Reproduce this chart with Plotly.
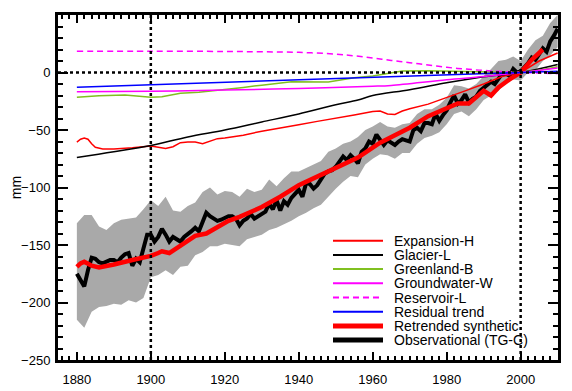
import plotly.graph_objects as go

# ---------------- data (mm, relative to 2000) ----------------
obs_years = list(range(1880, 2011))
obs_tgc = [
    -175, -180, -186, -172, -161, -162, -165, -166, -164, -163,
    -163, -165, -161, -158, -157, -168, -162, -165, -153, -141,
    -141, -147, -143, -136, -141, -147, -143, -145, -147, -143,
    -141, -138, -135, -138, -130, -122, -125, -127, -129, -128,
    -126, -125, -125, -127, -133, -129, -127, -123, -127, -125,
    -124, -121, -114, -119, -111, -120, -112, -115, -109, -106,
    -102, -108, -96, -97, -101, -98, -93, -88, -86, -85,
    -82, -77, -73, -76, -72, -75, -79, -69, -66, -60,
    -62, -54, -58, -63, -59, -61, -63, -60, -58, -59,
    -60, -50, -48, -51, -44, -44, -45, -36, -42, -37,
    -33, -26, -20, -27, -24, -19, -26, -23, -21, -16,
    -13, -10, -8, -10, -6, -1, -1, -3, 3, 0,
    1, 4, 8, 13, 11, 16, 21, 18, 27, 32,
    38,
]

band_years = list(range(1880, 2011, 2))
band_upper = [
    -131, -124, -124, -134, -137, -131, -128, -127, -126, -119,
    -111, -116, -108, -120, -121, -116, -113, -104, -100, -106,
    -103, -104, -108, -101, -104, -102, -93, -99, -92, -86,
    -86, -83, -80, -77, -69, -66, -62, -60, -56, -50,
    -47, -43, -47, -48, -45, -44, -36, -32, -32, -28,
    -22, -11, -12, -14, -10, -3, 3, 10, 11, 14,
    10, 20, 28, 32, 43, 50,
]
band_lower = [
    -215, -222, -208, -204, -203, -201, -202, -198, -200, -196,
    -178, -176, -172, -176, -169, -168, -159, -156, -151, -151,
    -149, -150, -151, -145, -143, -141, -137, -135, -132, -129,
    -125, -122, -118, -115, -108, -101, -95, -90, -91, -80,
    -75, -71, -72, -75, -70, -70, -62, -57, -55, -52,
    -45, -36, -34, -38, -32, -24, -20, -16, -9, -6,
    -7, 0, 2, 10, 15, 22,
]

retr_years = [1880, 1881, 1882, 1883, 1884, 1886, 1888, 1890, 1895, 1900,
              1902, 1903, 1905, 1907, 1909, 1912, 1915, 1918, 1921, 1924,
              1930, 1935, 1940, 1946, 1951, 1956, 1962, 1965, 1970, 1975,
              1980, 1983, 1986, 1988, 1990, 1992, 1994, 1997, 2000, 2003, 2006]
retr_synth = [-169, -166, -164.5, -166, -168, -169.5, -168.5, -167, -163, -159.5,
              -157, -155.5, -157, -153, -149, -142, -140, -134.5, -129, -125.5,
              -117, -108, -98, -89, -82, -74, -61, -56, -48, -38,
              -31, -27, -27, -22, -16, -20, -13, -6, 0, 11, 20]

exp_years = [1880, 1881, 1882, 1883, 1884, 1885, 1887, 1890, 1895, 1900,
             1902, 1904, 1906, 1908, 1910, 1912, 1914, 1916, 1918, 1920,
             1925, 1930, 1935, 1940, 1945, 1950, 1955, 1960, 1962, 1964,
             1966, 1968, 1970, 1975, 1980, 1985, 1990, 1995, 2000, 2005, 2010]
expansion_h = [-60.5, -58, -57, -58, -62, -65, -66.5, -66.5, -65.5, -64,
               -65, -66, -64.5, -61, -60.5, -60.5, -62, -60, -57.5, -57,
               -54.5, -51, -48.5, -45.5, -42.5, -40, -37, -34, -33.5, -36,
               -36.5, -33.5, -31.5, -27.5, -22, -16, -10, -3.5, 0, 10, 17]

gla_years = [1880, 1890, 1900, 1910, 1920, 1930, 1940, 1950, 1956, 1960,
             1970, 1980, 1990, 2000, 2010]
glacier_l = [-74, -69, -63.5, -56, -50, -43, -36, -28, -24, -20,
             -15, -9, -3.7, 0, 7]

grn_years = [1880, 1886, 1893, 1897, 1900, 1903, 1908, 1913, 1920, 1925,
             1930, 1935, 1938, 1948, 1952, 1955, 1960, 1965, 1968, 1975,
             1985, 1990, 1995, 2000, 2005, 2010]
greenland_b = [-21.5, -20.2, -19.6, -20.5, -21.5, -21, -18, -17.2, -15, -13,
               -11, -9, -8, -8.3, -6.5, -4.5, -3, -0.5, 1.2, 1.5,
               1.2, 0.8, 0.3, 0, 2, 5]

gw_years = [1880, 1900, 1910, 1920, 1940, 1960, 1965, 1980, 1990, 2000, 2010]
groundwater_w = [-16.8, -16.3, -15.9, -15.3, -13.9, -12.0, -11.2, -6.3, -3.5, 0, 4]

res_years = [1880, 1900, 1920, 1930, 1940, 1950, 1955, 1960, 1965, 1970,
             1975, 1980, 1985, 1990, 1995, 2000, 2005, 2010]
reservoir_l = [18.5, 18.5, 18.3, 18, 17.5, 16, 14.5, 12.5, 10.5, 8.5,
               6.5, 4.5, 3, 1.8, 0.8, 0, -0.5, -1]

resid_years = [1880, 2000, 2010]
residual_trend = [-12.8, 0, 1.1]

ref_years = [1900, 2000]
ref_level = 0

x_range = [1874.9, 2010.1]
y_range = [-250, 50]
x_ticks = [1880, 1900, 1920, 1940, 1960, 1980, 2000]
y_ticks = [-250, -200, -150, -100, -50, 0, 50]

legend_labels = ["Expansion-H", "Glacier-L", "Greenland-B", "Groundwater-W",
                 "Reservoir-L", "Residual trend", "Retrended synthetic",
                 "Observational (TG-C)"]

# ---------------- figure ----------------
FONT = "Arial, Liberation Sans, Helvetica, sans-serif"
PAGE = 8                      # default page margin around the figure div
W, H = 572 - PAGE, 391 - PAGE
ML, MR, MT, MB = 58 - PAGE, 14, 15 - PAGE, 31
PW, PH = W - ML - MR, H - MT - MB

styles = {
    "Expansion-H": dict(color="#ff0000", width=1.5),
    "Glacier-L": dict(color="black", width=1.5, shape="spline"),
    "Greenland-B": dict(color="#80c020", width=1.5),
    "Groundwater-W": dict(color="#ff00ff", width=1.5, shape="spline"),
    "Reservoir-L": dict(color="#ff00ff", width=1.5, dash="6px,4px", shape="spline"),
    "Residual trend": dict(color="#0000ff", width=1.5),
    "Retrended synthetic": dict(color="#ff0000", width=4.5),
    "Observational (TG-C)": dict(color="black", width=4),
}
series = {
    "Expansion-H": (exp_years, expansion_h),
    "Glacier-L": (gla_years, glacier_l),
    "Greenland-B": (grn_years, greenland_b),
    "Groundwater-W": (gw_years, groundwater_w),
    "Reservoir-L": (res_years, reservoir_l),
    "Residual trend": (resid_years, residual_trend),
    "Retrended synthetic": (retr_years, retr_synth),
    "Observational (TG-C)": (obs_years, obs_tgc),
}
draw_order = ["Observational (TG-C)", "Retrended synthetic", "Expansion-H", "Glacier-L",
              "Greenland-B", "Groundwater-W", "Reservoir-L", "Residual trend"]

fig = go.Figure()

# uncertainty band
fig.add_trace(go.Scatter(
    x=band_years + band_years[::-1],
    y=band_upper + band_lower[::-1],
    fill="toself", fillcolor="#a9a9a9", mode="lines",
    line=dict(width=0, color="#a9a9a9"), showlegend=False, hoverinfo="skip"))

for name in draw_order:
    xs, ys = series[name]
    fig.add_trace(go.Scatter(x=xs, y=ys, mode="lines", name=name,
                             line=styles[name], showlegend=False))

shapes = []
for yr in ref_years:
    shapes.append(dict(type="line", xref="x", yref="paper", x0=yr, x1=yr, y0=0, y1=1,
                       line=dict(color="black", width=2.5, dash="dot"), layer="above"))
shapes.append(dict(type="line", xref="paper", yref="y", x0=0, x1=1, y0=ref_level, y1=ref_level,
                   line=dict(color="black", width=2.5, dash="dot"), layer="above"))

# hand-placed legend (line samples + real text); positions given in window pixels
annotations = []
leg_x0, leg_x1, leg_tx = 333, 383, 393
leg_y0, leg_dy = 240.7, 14.2
for i, name in enumerate(legend_labels):
    py = leg_y0 + i * leg_dy - PAGE
    yp = (H - MB - py) / PH
    st = styles[name]
    lw = 5 if st["width"] > 3 else 2
    shapes.append(dict(type="line", xref="paper", yref="paper",
                       x0=(leg_x0 - PAGE - ML) / PW, x1=(leg_x1 - PAGE - ML) / PW, y0=yp, y1=yp,
                       line=dict(color=st["color"], width=lw, dash=st.get("dash", "solid"))))
    annotations.append(dict(xref="paper", yref="paper", x=(leg_tx - PAGE - ML) / PW, y=yp,
                            xanchor="left", yanchor="middle", showarrow=False, text=name,
                            borderpad=0,
                            font=dict(family=FONT, size=14, color="black")))

axis_common = dict(
    showline=True, linecolor="black", linewidth=3, mirror="allticks",
    ticks="inside", tickcolor="black", tickwidth=2,
    showgrid=False, zeroline=False, automargin=False,
    tickfont=dict(family=FONT, size=13, color="black"),
)

fig.update_layout(
    width=W, height=H,
    margin=dict(l=ML, r=MR, t=MT, b=MB, autoexpand=False),
    paper_bgcolor="white", plot_bgcolor="white",
    font=dict(family=FONT, size=13, color="black"),
    shapes=shapes, annotations=annotations,
    showlegend=False,
    xaxis=dict(range=x_range, tickvals=x_ticks, ticklen=8,
               minor=dict(dtick=2, tick0=1880, ticklen=4, tickwidth=2, tickcolor="black", ticks="inside"),
               ticklabelstandoff=5, **axis_common),
    yaxis=dict(range=y_range, tickvals=y_ticks, ticklen=10,
               minor=dict(dtick=10, tick0=0, ticklen=5, tickwidth=2, tickcolor="black", ticks="inside"),
               ticklabelstandoff=2,
               title=dict(text="mm", font=dict(family=FONT, size=14, color="black"), standoff=2),
               **axis_common),
)

fig.write_html("out.html")
